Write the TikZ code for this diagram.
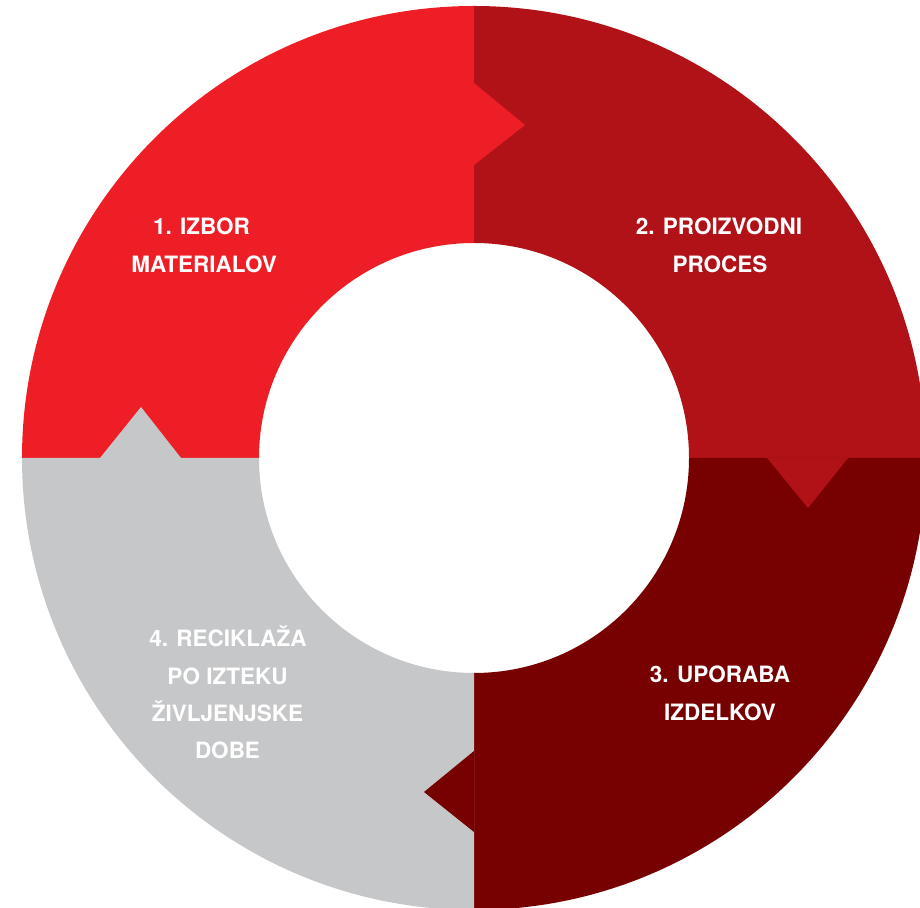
\documentclass[tikz,border=0pt]{standalone}
\usepackage{fontspec}
\newfontfamily\herosfont{TeX Gyre Heros}
\definecolor{cOne}{RGB}{237,30,38}
\definecolor{cTwo}{RGB}{176,18,24}
\definecolor{cThree}{RGB}{119,0,0}
\definecolor{cFour}{RGB}{198,199,201}
\tikzset{
  lbl/.style={text=white, anchor=base, inner sep=0pt,
    font=\herosfont\bfseries\fontsize{22.5}{27}\selectfont}
}
\begin{document}
\begin{tikzpicture}[x=1pt,y=1pt]
\useasboundingbox (0,0) rectangle (920,907);
\clip (0,0) rectangle (920,907);
\coordinate (C) at (474,449);
\def\Ro{452}
\def\Ri{215}
% quadrants
\fill[cOne]   ([shift={(180:\Ro)}]C) arc[start angle=180,end angle=90,radius=\Ro]
  -- ++(0,-237) arc[start angle=90,end angle=180,radius=\Ri] -- cycle;
\fill[cTwo]   ([shift={(90:\Ro)}]C) arc[start angle=90,end angle=0,radius=\Ro]
  -- ++(-237,0) arc[start angle=0,end angle=90,radius=\Ri] -- cycle;
\fill[cThree] ([shift={(0:\Ro)}]C) arc[start angle=0,end angle=-90,radius=\Ro]
  -- ++(0,237) arc[start angle=-90,end angle=0,radius=\Ri] -- cycle;
\fill[cFour]  ([shift={(-90:\Ro)}]C) arc[start angle=-90,end angle=-180,radius=\Ro]
  -- ++(237,0) arc[start angle=-180,end angle=-90,radius=\Ri] -- cycle;
% arrow tips
\fill[cOne]   (474,824) -- (525,782) -- (474,742) -- cycle;
\fill[cTwo]   (767,449) -- (808,399) -- (848,449) -- cycle;
\fill[cThree] (474,156) -- (424,115) -- (474,75) -- cycle;
\fill[cFour]  (100,449) -- (141,500) -- (181,449) -- cycle;
% labels
\node[lbl] (l1a) at (201.5,672) {1. IZBOR};
\node[lbl] (l1b) at (204,634) {MATERIALOV};
\node[lbl] (l2a) at (719,672) {2. PROIZVODNI};
\node[lbl] (l2b) at (720,634) {PROCES};
\node[lbl] (l3a) at (720,224) {3. UPORABA};
\node[lbl] (l3b) at (720,186) {IZDELKOV};
\node[lbl] (l4a) at (228,260) {4. RECIKLAŽA};
\node[lbl] (l4b) at (227.5,222) {PO IZTEKU};
\node[lbl] (l4c) at (227.5,185) {ŽIVLJENJSKE};
\node[lbl] (l4d) at (227.5,148) {DOBE};
\end{tikzpicture}
\end{document}
